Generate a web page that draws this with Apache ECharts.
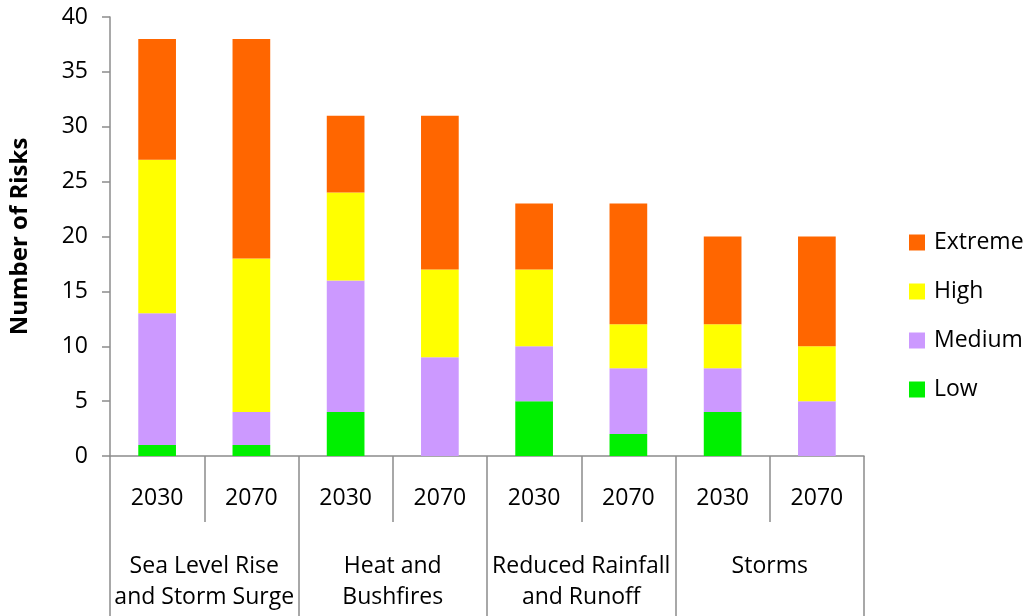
<!DOCTYPE html>
<html>
<head>
<meta charset="utf-8">
<script src="https://cdn.jsdelivr.net/npm/echarts@6/dist/echarts.min.js"></script>
<style>
  html, body { margin: 0; padding: 0; background: #fff; }
  #chart { width: 1030px; height: 616px; }
</style>
</head>
<body>
<div id="chart"></div>
<script>
// Scenario years within each hazard group
const years = ['2030', '2070', '2030', '2070', '2030', '2070', '2030', '2070'];
// Hazard groups, each spanning two years
const hazards = [
  'Sea Level Rise\nand Storm Surge',
  'Heat and\nBushfires',
  'Reduced Rainfall\nand Runoff',
  'Storms'
];
// Number of risks per rating (stacked bottom to top)
const low     = [1, 1, 4, 0, 5, 2, 4, 0];
const medium  = [12, 3, 12, 9, 5, 6, 4, 5];
const high    = [14, 14, 8, 8, 7, 4, 4, 5];
const extreme = [11, 20, 7, 14, 6, 11, 8, 10];
const yTicks = { min: 0, max: 40, step: 5 };

const font = '"Open Sans", Lato, sans-serif';
const axisGray = '#8c8c8c';

const chart = echarts.init(document.getElementById('chart'), null, { renderer: 'canvas' });

function barSeries(name, data, color) {
  return {
    name: name,
    type: 'bar',
    stack: 'risks',
    xAxisIndex: 0,
    data: data,
    barWidth: '40%',
    itemStyle: { color: color },
    emphasis: { disabled: true }
  };
}

chart.setOption({
  animation: false,
  backgroundColor: '#ffffff',
  grid: { left: 106, right: 166, top: 17, bottom: 160, containLabel: false },
  legend: {
    orient: 'vertical',
    left: 904,
    top: 226,
    itemWidth: 16,
    itemHeight: 16,
    itemGap: 26,
    icon: 'rect',
    data: ['Extreme', 'High', 'Medium', 'Low'],
    textStyle: { fontFamily: font, fontSize: 23, color: '#000', padding: [0, 0, 0, 4] }
  },
  xAxis: [
    {
      type: 'category',
      data: years,
      position: 'bottom',
      axisLine: { show: true, lineStyle: { color: axisGray, width: 1.5 } },
      axisTick: { show: true, alignWithLabel: false, interval: 0, length: 66, lineStyle: { color: axisGray, width: 1.5 } },
      axisLabel: { interval: 0, margin: 31, fontFamily: font, fontSize: 23, color: '#000' }
    },
    {
      type: 'category',
      data: hazards,
      position: 'bottom',
      axisLine: { show: false },
      axisTick: { show: true, interval: 0, length: 160, lineStyle: { color: axisGray, width: 1.5 } },
      axisLabel: {
        interval: 0, margin: 95, fontFamily: font, fontSize: 23, color: '#000',
        lineHeight: 31, verticalAlign: 'top', align: 'center'
      }
    }
  ],
  yAxis: {
    type: 'value',
    min: yTicks.min,
    max: yTicks.max,
    interval: yTicks.step,
    name: 'Number of Risks',
    nameLocation: 'middle',
    nameGap: 78,
    nameTextStyle: { fontFamily: font, fontSize: 24, fontWeight: 'bold', color: '#000' },
    axisLine: { show: true, lineStyle: { color: axisGray, width: 1.5 } },
    axisTick: { show: true, length: 8, lineStyle: { color: axisGray, width: 1.5 } },
    splitLine: { show: false },
    axisLabel: { margin: 22, fontFamily: font, fontSize: 23, color: '#000' }
  },
  series: [
    barSeries('Low', low, '#00f000'),
    barSeries('Medium', medium, '#cc99ff'),
    barSeries('High', high, '#ffff00'),
    barSeries('Extreme', extreme, '#ff6600')
  ]
});
</script>
</body>
</html>
